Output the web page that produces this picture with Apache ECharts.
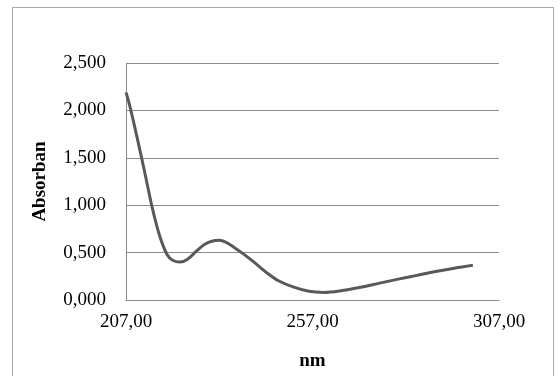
<!DOCTYPE html>
<html>
<head>
<meta charset="utf-8">
<script src="https://cdn.jsdelivr.net/npm/echarts@6/dist/echarts.min.js"></script>
<style>html,body{margin:0;padding:0;background:#fff;}#chart{width:560px;height:376px;}</style>
</head>
<body>
<div id="chart"></div>
<script>
const wavelength = [207, 208, 210, 212, 214, 216, 218, 219.5, 221.5, 223.5, 226, 228, 230, 232, 234, 236, 238, 241, 245, 248, 252, 256, 260, 265, 270, 275, 280, 285, 290, 295, 300];
const absorbance = [2.19, 2.05, 1.71, 1.35, 0.98, 0.68, 0.48, 0.42, 0.40, 0.43, 0.52, 0.585, 0.62, 0.63, 0.605, 0.555, 0.50, 0.41, 0.28, 0.20, 0.135, 0.092, 0.08, 0.10, 0.135, 0.178, 0.22, 0.26, 0.30, 0.335, 0.366];
const xTickLabels = [207, 257, 307];
const yTicks = [0, 0.5, 1, 1.5, 2, 2.5];
const xName = 'nm';
const yName = 'Absorban';

const chart = echarts.init(document.getElementById('chart'), null, {renderer: 'canvas'});
const font = 'Liberation Serif';
chart.setOption({
  animation: false,
  backgroundColor: '#ffffff',
  graphic: [{
    type: 'rect', left: 10, top: 5,
    shape: {width: 541, height: 400},
    style: {fill: 'none', stroke: '#a6a6a6', lineWidth: 1},
    silent: true
  }],
  grid: {left: 126, right: 61, top: 63, bottom: 74},
  xAxis: {
    type: 'value', min: 207, max: 307,
    name: xName, nameLocation: 'middle', nameGap: 52,
    nameTextStyle: {fontFamily: font, fontSize: 19, fontWeight: 'bold', color: '#000'},
    axisLine: {show: true, lineStyle: {color: '#8c8c8c', width: 1}},
    axisTick: {show: false},
    splitLine: {show: false},
    axisLabel: {
      customValues: xTickLabels, margin: 13,
      fontFamily: font, fontSize: 19, color: '#000',
      formatter: v => v.toFixed(2).replace('.', ',')
    }
  },
  yAxis: {
    type: 'value', min: yTicks[0], max: yTicks[yTicks.length - 1], interval: 0.5,
    name: yName, nameLocation: 'middle', nameGap: 76,
    nameTextStyle: {fontFamily: font, fontSize: 19, fontWeight: 'bold', color: '#000'},
    axisLine: {show: true, lineStyle: {color: '#8c8c8c', width: 1}},
    axisTick: {show: false},
    splitLine: {show: true, lineStyle: {color: '#8c8c8c', width: 1}},
    axisLabel: {
      margin: 20, fontFamily: font, fontSize: 19, color: '#000',
      formatter: v => v.toFixed(3).replace('.', ',')
    }
  },
  series: [{
    type: 'line',
    data: wavelength.map((w, i) => [w, absorbance[i]]),
    smooth: 0.35,
    showSymbol: false,
    symbol: 'none',
    lineStyle: {color: '#595959', width: 3}
  }]
});
</script>
</body>
</html>
